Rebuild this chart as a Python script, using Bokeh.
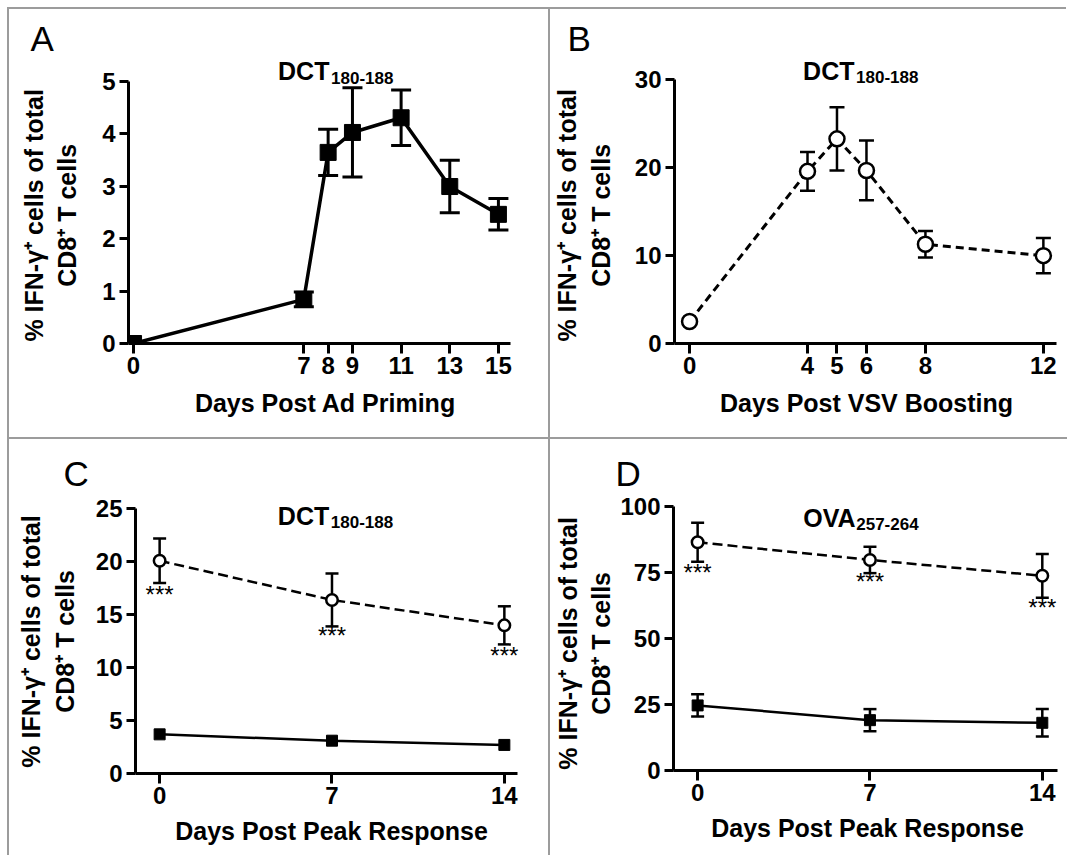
from bokeh.plotting import figure
from bokeh.models import Range1d, FixedTicker, Whisker, TeeHead, ColumnDataSource, Label, Title, Spacer
from bokeh.layouts import column, row
from bokeh.core.properties import value
from bokeh.embed import file_html
from bokeh.resources import INLINE

FONT = "Liberation Sans"
YLABEL_LINES = ["% IFN-\u03b3\u207a cells of total", "CD8\u207a T cells"]

# ---------------- data ----------------
# Panel A: DCT180-188, days post Ad priming
a_days = [0, 7, 8, 9, 11, 13, 15]
a_vals = [0.0, 0.84, 3.64, 4.02, 4.30, 2.99, 2.46]
a_err = [0.0, 0.14, 0.44, 0.85, 0.53, 0.50, 0.30]
a_yticks = [0, 1, 2, 3, 4, 5]

# Panel B: DCT180-188, days post VSV boosting
b_days = [0, 4, 5, 6, 8, 12]
b_vals = [2.5, 19.6, 23.3, 19.7, 11.3, 10.0]
b_err = [0.2, 2.2, 3.6, 3.4, 1.5, 2.0]
b_yticks = [0, 10, 20, 30]

# Panel C: DCT180-188, days post peak response
c_days = [0, 7, 14]
c_open = [20.1, 16.4, 14.0]
c_open_err = [2.1, 2.5, 1.8]
c_filled = [3.7, 3.1, 2.7]
c_filled_err = [0.2, 0.2, 0.2]
c_yticks = [0, 5, 10, 15, 20, 25]
c_star_y = [17.1, 13.2, 11.3]

# Panel D: OVA257-264, days post peak response
d_days = [0, 7, 14]
d_open = [86.6, 79.9, 73.9]
d_open_err = [7.4, 5.0, 8.3]
d_filled = [24.7, 19.1, 18.1]
d_filled_err = [4.2, 4.2, 5.2]
d_yticks = [0, 25, 50, 75, 100]
d_star_y = [75.8, 72.2, 62.4]

BORDER = "2px solid #9c9c9c"


def ylabel(pad):
    # trailing no-break spaces nudge the centred, rotated label toward the axis origin
    return "\n".join(line + "\u00a0" * pad for line in YLABEL_LINES)


def make_panel(fw, fh, xr, yr, borders, xticks, yticks, xbound, ybound,
               xlabel, xlab_standoff, ylab_standoff, ylab_pad,
               letter, letter_offset, letter_standoff):
    p = figure(frame_width=fw, frame_height=fh,
               x_range=Range1d(*xr), y_range=Range1d(*yr),
               output_backend="svg", toolbar_location=None,
               min_border_left=borders[0], min_border_right=borders[1],
               min_border_top=borders[2], min_border_bottom=borders[3],
               background_fill_color="white", border_fill_color="white")
    p.grid.visible = False
    p.outline_line_color = None
    for ax in (p.xaxis[0], p.yaxis[0]):
        ax.axis_line_width = 3
        ax.axis_line_color = "black"
        ax.major_tick_line_width = 3
        ax.major_tick_line_color = "black"
        ax.major_tick_in = 0
        ax.minor_tick_line_color = None
        ax.major_label_text_font = FONT
        ax.major_label_text_font_style = "bold"
        ax.major_label_text_font_size = "24px"
        ax.major_label_text_color = "black"
        ax.axis_label_text_font = FONT
        ax.axis_label_text_font_style = "bold"
        ax.axis_label_text_font_size = "25px"
        ax.axis_label_text_color = "black"
    xa = p.xaxis[0]
    ya = p.yaxis[0]
    xa.ticker = FixedTicker(ticks=xticks)
    ya.ticker = FixedTicker(ticks=yticks)
    xa.bounds = xbound
    ya.bounds = ybound
    xa.major_tick_out = 10
    xa.major_label_standoff = 3
    xa.axis_label_standoff = xlab_standoff
    xa.axis_label = xlabel
    ya.major_tick_out = 9
    ya.major_label_standoff = 4
    ya.axis_label_standoff = ylab_standoff
    ya.axis_label = ylabel(ylab_pad)
    p.add_layout(Title(text=letter, align="left", offset=letter_offset,
                       standoff=letter_standoff, text_font=FONT,
                       text_font_style="normal", text_font_size="35px",
                       text_color="black"), "above")
    return p


def add_whiskers(p, xs, ys, errs, cap, lw):
    pts = [(x, y, e) for x, y, e in zip(xs, ys, errs) if e > 0]
    src = ColumnDataSource(data=dict(
        x=[q[0] for q in pts],
        upper=[q[1] + q[2] for q in pts],
        lower=[q[1] - q[2] for q in pts]))
    w = Whisker(source=src, base="x", upper="upper", lower="lower",
                line_color="black", line_width=lw,
                upper_head=TeeHead(size=cap, line_width=lw, line_color="black"),
                lower_head=TeeHead(size=cap, line_width=lw, line_color="black"))
    p.add_layout(w)


def add_title(p, x, y, main, sub):
    p.add_layout(Label(x=x, y=y, text=main, text_font=FONT, text_font_style="bold",
                       text_font_size="25px", text_color="black",
                       text_align="left", text_baseline="alphabetic"))
    p.add_layout(Label(x=x, y=y, x_offset=53, y_offset=-6.5, text=sub, text_font=FONT,
                       text_font_style="bold", text_font_size="17px", text_color="black",
                       text_align="left", text_baseline="alphabetic"))


def add_stars(p, xs, ys):
    p.text(x=xs, y=ys, text=["***"] * len(xs), text_font=value(FONT),
           text_font_size="24px", text_color="black", text_align="center",
           text_baseline="alphabetic", y_offset=1.5)


# ---------------- Panel A ----------------
pA = make_panel(392, 289, (-0.207, 15.99), (0, 5.543), (119, 28, 43, 96),
                a_days, a_yticks, (-0.207, 15.5), (0, 5),
                "Days Post Ad Priming", 12, 18, 5, "A", -98, -10)
pA.line(a_days, a_vals, line_width=3.5, color="black")
add_whiskers(pA, a_days, a_vals, a_err, 20, 3)
pA.scatter(a_days, a_vals, marker="square", size=16, color="black")
add_title(pA, 5.94, 5.184, "DCT", "180-188")

# ---------------- Panel B ----------------
pB = make_panel(382, 289, (-0.511, 12.513), (0, 33.13), (120, 10, 43, 96),
                b_days, b_yticks, (-0.511, 12.44), (0, 30),
                "Days Post VSV Boosting", 12, 17, 5, "B", -107, -10)
pB.line(b_days, b_vals, line_width=3, color="black", line_dash="8 5")
add_whiskers(pB, b_days, b_vals, b_err, 15, 2.5)
pB.scatter(b_days, b_vals, marker="circle", size=15, fill_color="white",
           line_color="black", line_width=2.5)
add_title(pB, 3.85, 31.07, "DCT", "180-188")

# ---------------- Panel C ----------------
pC = make_panel(390, 276, (-0.98, 14.94), (0, 26.27), (126, 23, 56, 84),
                c_days, c_yticks, (-0.98, 14.53), (0, 25),
                "Days Post Peak Response", 10, 14, 2, "C", -72, 5)
pC.line(c_days, c_open, line_width=2.5, color="black", line_dash="10 5")
pC.line(c_days, c_filled, line_width=2.5, color="black")
add_whiskers(pC, c_days, c_open, c_open_err, 13, 2.5)
add_whiskers(pC, c_days, c_filled, c_filled_err, 9, 2.5)
pC.scatter(c_days, c_open, marker="circle", size=11.5, fill_color="white",
           line_color="black", line_width=2.5)
pC.scatter(c_days, c_filled, marker="square", size=11, color="black")
add_stars(pC, c_days, c_star_y)
add_title(pC, 4.80, 24.36, "DCT", "180-188")

# ---------------- Panel D ----------------
pD = make_panel(386, 273, (-0.98, 14.78), (0, 104.36), (116, 10, 56, 87),
                d_days, d_yticks, (-0.98, 14.61), (0, 100),
                "Days Post Peak Response", 10, 2, 3, "D", -58, 5)
pD.line(d_days, d_open, line_width=2.5, color="black", line_dash="10 5")
pD.line(d_days, d_filled, line_width=2.5, color="black")
add_whiskers(pD, d_days, d_open, d_open_err, 13, 2.5)
add_whiskers(pD, d_days, d_filled, d_filled_err, 13, 2.5)
pD.scatter(d_days, d_open, marker="circle", size=11.5, fill_color="white",
           line_color="black", line_width=2.5)
pD.scatter(d_days, d_filled, marker="square", size=11, color="black")
add_stars(pD, d_days, d_star_y)
add_title(pD, 4.29, 95.95, "OVA", "257-264")

for p in (pA, pB, pC, pD):
    p.styles = {"border-top": BORDER, "border-left": BORDER}

layout = column(Spacer(height=7),
                row(Spacer(width=7), pA, pB),
                row(Spacer(width=7), pC, pD))
open("out.html", "w").write(file_html(layout, INLINE))
